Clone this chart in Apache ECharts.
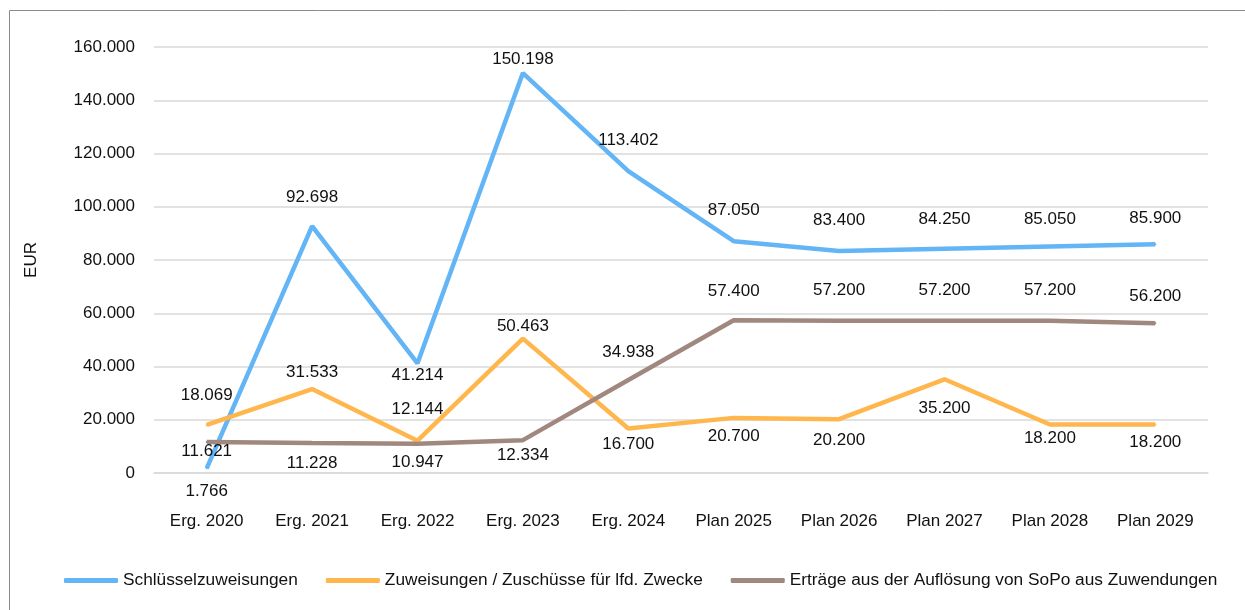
<!DOCTYPE html>
<html lang="de">
<head>
    <meta charset="UTF-8">
    <script src="https://cdn.jsdelivr.net/npm/echarts@6/dist/echarts.min.js"></script>
    <title>Zuweisungen</title>
    <style>
        html, body { margin: 0; padding: 0; background: #fff; }
    </style>
</head>
<body>
<div id="main" style="width: 1245px;height:610px;"></div>

<script type="text/javascript">
    // Kategorien
    var categories = ['Erg. 2020', 'Erg. 2021', 'Erg. 2022', 'Erg. 2023', 'Erg. 2024',
        'Plan 2025', 'Plan 2026', 'Plan 2027', 'Plan 2028', 'Plan 2029'];

    // Werte in EUR
    var schluessel = [1766, 92698, 41214, 150198, 113402, 87050, 83400, 84250, 85050, 85900];
    var zuschuesse = [18069, 31533, 12144, 50463, 16700, 20700, 20200, 35200, 18200, 18200];
    var sopo = [11621, 11228, 10947, 12334, 34938, 57400, 57200, 57200, 57200, 56200];

    var seriesNames = ['Schlüsselzuweisungen', 'Zuweisungen / Zuschüsse für lfd. Zwecke',
        'Erträge aus der Auflösung von SoPo aus Zuwendungen'];

    // Lage der Wertelabels (Pixel, negativ = oberhalb)
    var labelOffsets = [
        [23, -29, 12, -14, -31, -31, -31, -29, -27, -26],
        [-30, -17, -31, -12, 16, 18, 21, 29, 14, 18],
        [9, 20, 18, 15, -28, -29, -30, -30, -30, -27]
    ];

    var font = 'Liberation Sans, Arial, sans-serif';

    function fmt(v) {
        return String(Math.round(v)).replace(/\B(?=(\d{3})+(?!\d))/g, '.');
    }

    function buildData(values, offsets) {
        return values.map(function (v, i) {
            var off = offsets[i];
            return {
                value: v,
                label: {
                    position: off < 0 ? 'top' : 'bottom',
                    distance: Math.max(0, Math.abs(off) - 9.5)
                }
            };
        });
    }

    function lineSeries(name, values, offsets, color) {
        return {
            name: name,
            type: 'line',
            data: buildData(values, offsets),
            symbol: 'circle',
            symbolSize: 2,
            lineStyle: { color: color, width: 4.5 },
            itemStyle: { color: color },
            label: {
                show: true,
                color: '#111',
                fontSize: 17,
                fontFamily: font,
                formatter: function (p) { return fmt(p.value); }
            }
        };
    }

    var myChart = echarts.init(document.getElementById('main'));

    var option = {
        animation: false,
        color: ['#64B5F6', '#FFB74D', '#A1887F'],
        graphic: [{
            type: 'rect',
            left: 7,
            top: 8,
            shape: { width: 1300, height: 700 },
            style: { fill: 'none', stroke: '#8c8c8c', lineWidth: 1 },
            silent: true
        }],
        grid: {
            left: 154,
            right: 37,
            top: 47,
            bottom: 137
        },
        legend: {
            left: 59,
            top: 567,
            itemWidth: 54,
            itemHeight: 5,
            itemGap: 28,
            icon: 'roundRect',
            textStyle: { color: '#111', fontSize: 17.3, fontFamily: font },
            data: seriesNames
        },
        xAxis: {
            type: 'category',
            data: categories,
            axisLine: { show: true, lineStyle: { color: '#d9d9d9', width: 1.5 } },
            axisTick: { show: false },
            axisLabel: { color: '#111', fontSize: 17, fontFamily: font, margin: 40 }
        },
        yAxis: {
            type: 'value',
            min: 0,
            max: 160000,
            interval: 20000,
            name: 'EUR',
            nameLocation: 'middle',
            nameGap: 114,
            nameTextStyle: { color: '#111', fontSize: 17, fontFamily: font },
            axisLine: { show: false },
            axisTick: { show: false },
            splitLine: { lineStyle: { color: '#d9d9d9', width: 1.5 } },
            axisLabel: {
                color: '#111', fontSize: 17, fontFamily: font, margin: 19,
                formatter: function (v) { return fmt(v); }
            }
        },
        series: [
            lineSeries(seriesNames[0], schluessel, labelOffsets[0], '#64B5F6'),
            lineSeries(seriesNames[1], zuschuesse, labelOffsets[1], '#FFB74D'),
            lineSeries(seriesNames[2], sopo, labelOffsets[2], '#A1887F')
        ]
    };

    myChart.setOption(option);
</script>
</body>
</html>
